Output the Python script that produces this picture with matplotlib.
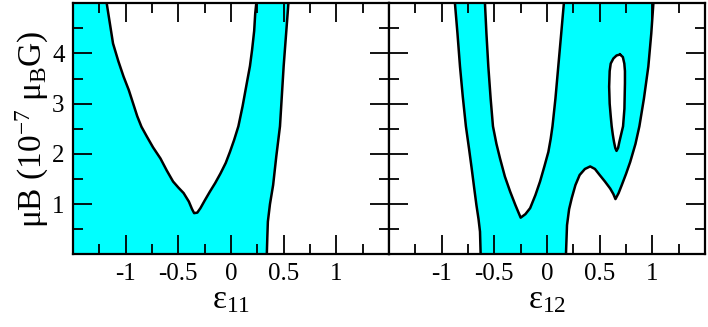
import numpy as np
import matplotlib
matplotlib.use("Agg")
import matplotlib.pyplot as plt
from matplotlib.ticker import MultipleLocator, FixedLocator

plt.rcParams["font.family"] = ["Liberation Serif", "DejaVu Serif"]
plt.rcParams["mathtext.fontset"] = "custom"
plt.rcParams["mathtext.rm"] = "Liberation Serif"
plt.rcParams["mathtext.it"] = "Liberation Serif:italic"

CYAN = "#00ffff"

# left panel (eps_11): white V-shaped hole and right edge of the allowed band
L_HOLE_X = [-1.18, -1.15, -1.12, -1.07, -1.02, -0.97, -0.93, -0.89, -0.85, -0.80,
            -0.74, -0.67, -0.61, -0.55, -0.50, -0.45, -0.40, -0.37, -0.35, -0.32,
            -0.29, -0.25, -0.20, -0.15, -0.10, -0.05, -0.01, 0.03, 0.07, 0.11,
            0.15, 0.18, 0.20, 0.22, 0.23, 0.24]
L_HOLE_Y = [5.0, 4.6, 4.20, 3.85, 3.54, 3.27, 3.01, 2.75, 2.54, 2.35,
            2.13, 1.91, 1.67, 1.45, 1.33, 1.22, 1.05, 0.90, 0.82, 0.83,
            0.92, 1.07, 1.25, 1.42, 1.61, 1.82, 2.04, 2.28, 2.55, 2.95,
            3.41, 3.75, 4.07, 4.45, 4.80, 5.0]
L_EDGE_X = [0.34, 0.345, 0.35, 0.37, 0.40, 0.43, 0.465, 0.50, 0.545]
L_EDGE_Y = [0.0, 0.35, 0.65, 1.0, 1.38, 1.95, 2.55, 3.75, 5.0]

# right panel (eps_12)
R_OUTER_X = [-0.63, -0.636, -0.65, -0.67, -0.69, -0.715, -0.74, -0.77, -0.80,
             -0.826, -0.85, -0.874]
R_OUTER_Y = [0.0, 0.45, 0.7, 0.98, 1.3, 1.71, 2.1, 2.55, 3.15, 3.74, 4.4, 5.0]
R_HOLE_X = [-0.589, -0.575, -0.557, -0.535, -0.513, -0.48, -0.446, -0.40, -0.35,
            -0.30, -0.25, -0.205, -0.16, -0.11, -0.066, -0.025, 0.013, 0.035,
            0.052, 0.08, 0.107, 0.135, 0.16]
R_HOLE_Y = [5.0, 4.4, 3.74, 3.1, 2.55, 2.2, 1.91, 1.55, 1.25,
            0.98, 0.73, 0.80, 0.92, 1.18, 1.45, 1.75, 2.04, 2.3,
            2.55, 3.1, 3.74, 4.4, 5.0]
R_BUMP_X = [0.18, 0.19, 0.21, 0.235, 0.27, 0.31, 0.36, 0.41, 0.455, 0.50, 0.55,
            0.60, 0.63, 0.65, 0.68, 0.71, 0.75, 0.79, 0.84, 0.877, 0.92, 0.962,
            0.99, 1.01]
R_BUMP_Y = [0.0, 0.58, 0.9, 1.12, 1.38, 1.58, 1.70, 1.75, 1.70, 1.58, 1.45,
            1.31, 1.20, 1.10, 1.22, 1.38, 1.60, 1.84, 2.2, 2.55, 3.1, 3.74,
            4.4, 5.0]
R_ISLAND_X = [0.693, 0.66, 0.63, 0.605, 0.595, 0.59, 0.595, 0.605, 0.614, 0.625,
              0.636, 0.648, 0.66, 0.675, 0.687, 0.705, 0.722, 0.735, 0.74, 0.74,
              0.734, 0.72, 0.693]
R_ISLAND_Y = [3.98, 3.96, 3.90, 3.80, 3.65, 3.34, 3.0, 2.75, 2.55, 2.38,
              2.24, 2.12, 2.06, 2.12, 2.24, 2.40, 2.55, 2.9, 3.41, 3.65,
              3.80, 3.93, 3.98]

X_TICKS = [-1, -0.5, 0, 0.5, 1]
X_LABELS = ["-1", "-0.5", "0", "0.5", "1"]
Y_TICKS = [1, 2, 3, 4]
Y_LABELS = ["1", "2", "3", "4"]

LW = 1.8


def style(ax, show_y):
    ax.set_xlim(-1.5, 1.5)
    ax.set_ylim(0, 5)
    ax.xaxis.set_major_locator(FixedLocator(X_TICKS))
    ax.set_xticklabels(X_LABELS)
    ax.xaxis.set_minor_locator(FixedLocator([-1.25, -0.75, -0.25, 0.25, 0.75, 1.25]))
    ax.yaxis.set_major_locator(FixedLocator(Y_TICKS))
    ax.yaxis.set_minor_locator(MultipleLocator(0.5))
    if show_y:
        ax.set_yticklabels(Y_LABELS)
    else:
        ax.set_yticklabels([])
    ax.tick_params(which="both", direction="in", top=True, right=True,
                   width=1.3, labelsize=18)
    ax.tick_params(which="major", length=14, pad=6)
    ax.tick_params(which="minor", length=7)
    for sp in ax.spines.values():
        sp.set_linewidth(1.6)


fig = plt.figure(figsize=(7.08, 3.27), dpi=100)
ax1 = fig.add_axes([73 / 708, 72.7 / 327, 316 / 708, 251 / 327])
ax2 = fig.add_axes([389 / 708, 72.7 / 327, 316 / 708, 251 / 327])

# left panel
ax1.fill([-1.6, -1.6] + L_EDGE_X[::-1], [-0.1, 5.1] + L_EDGE_Y[::-1],
         color=CYAN, lw=0)
ax1.fill(L_HOLE_X, L_HOLE_Y, color="white", lw=0)
ax1.plot(L_HOLE_X, L_HOLE_Y, color="black", lw=LW)
ax1.plot(L_EDGE_X, L_EDGE_Y, color="black", lw=LW)
style(ax1, True)
ax1.set_xlabel("ε$_{11}$", fontsize=24, labelpad=0)
ax1.set_ylabel("μB (10$^{-7}$ μ$_{\\rm B}$G)", fontsize=24, labelpad=1)

# right panel
ax2.fill(R_OUTER_X + R_BUMP_X[::-1], R_OUTER_Y + R_BUMP_Y[::-1],
         color=CYAN, lw=0)
ax2.fill(R_HOLE_X, R_HOLE_Y, color="white", lw=0)
ax2.fill(R_ISLAND_X, R_ISLAND_Y, color="white", lw=0)
for xs, ys in [(R_OUTER_X, R_OUTER_Y), (R_HOLE_X, R_HOLE_Y),
               (R_BUMP_X, R_BUMP_Y), (R_ISLAND_X, R_ISLAND_Y)]:
    ax2.plot(xs, ys, color="black", lw=LW)
style(ax2, False)
ax2.set_xlabel("ε$_{12}$", fontsize=24, labelpad=0)

fig.savefig("out.png", dpi=100)
